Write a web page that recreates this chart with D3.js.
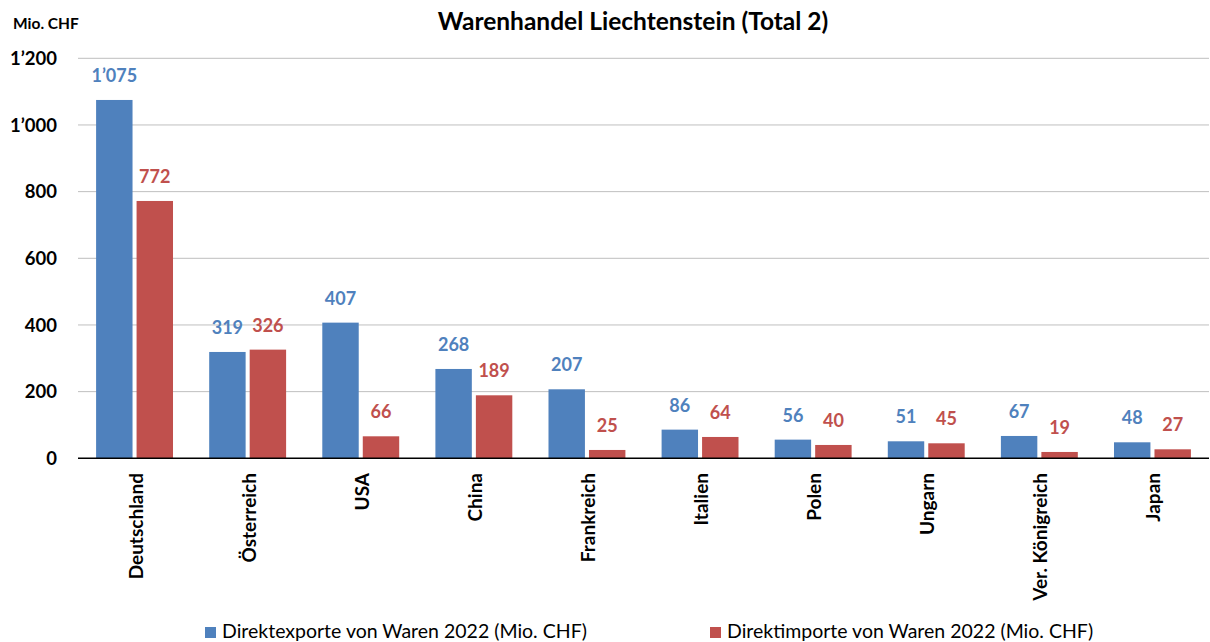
<!DOCTYPE html>
<html><head><meta charset="utf-8">
<script src="https://cdn.jsdelivr.net/npm/d3@7"></script>
<style>body{margin:0;background:#fff;} svg{font-family:Lato,"Open Sans",sans-serif;}</style>
</head><body>
<svg id="c" width="1210" height="642"></svg>
<script>
const categories = ["Deutschland","Österreich","USA","China","Frankreich","Italien","Polen","Ungarn","Ver. Königreich","Japan"];
const exportsVals = [1075,319,407,268,207,86,56,51,67,48];
const importsVals = [772,326,66,189,25,64,40,45,19,27];
const seriesNames = ["Direktexporte von Waren 2022 (Mio. CHF)","Direktimporte von Waren 2022 (Mio. CHF)"];
const yTicks = [0,200,400,600,800,1000,1200];
const colors = ["#4F81BD","#C0504D"];

(function(){
const svg = d3.select("#c");
const pL = 78, pR = 1209, pT = 58.3, pB = 458.3;
const x = d3.scaleBand().domain(categories).range([pL, pR]).paddingInner(0.32).paddingOuter(0.16);
const xs = d3.scaleBand().domain([0,1]).range([0, x.bandwidth()]).paddingInner(0.1);
const y = d3.scaleLinear().domain([0,1200]).range([pB, pT]);
const fmt = v => { const s = String(v); return s.length > 3 ? s.slice(0, s.length-3) + "\u2019" + s.slice(-3) : s; };

svg.append("g").selectAll("line").data(yTicks.filter(d=>d>0)).join("line")
  .attr("x1", pL).attr("x2", pR).attr("y1", d=>y(d)).attr("y2", d=>y(d))
  .attr("stroke", "#BFBFBF").attr("stroke-width", 1);

svg.append("g").selectAll("text").data(yTicks).join("text")
  .attr("x", 57).attr("y", d=>y(d)).attr("dy", "0.36em").attr("text-anchor", "end")
  .attr("font-weight", "bold").attr("font-size", 18.5).attr("fill", "#000").text(fmt);

const series = [exportsVals, importsVals];
series.forEach((vals, si) => {
  const g = svg.append("g");
  g.selectAll("rect").data(vals).join("rect")
    .attr("x", (d,i)=>x(categories[i]) + xs(si)).attr("width", xs.bandwidth())
    .attr("y", d=>y(d)).attr("height", d=>pB - y(d)).attr("fill", colors[si]);
  g.selectAll("text").data(vals).join("text")
    .attr("x", (d,i)=>x(categories[i]) + xs(si) + xs.bandwidth()/2)
    .attr("y", d=>y(d) - 18).attr("text-anchor", "middle")
    .attr("font-weight", "bold").attr("font-size", 18).attr("fill", colors[si]).text(fmt);
});

svg.append("line").attr("x1", pL).attr("x2", pR).attr("y1", pB).attr("y2", pB)
  .attr("stroke", "#000").attr("stroke-width", 1.5);

svg.append("g").selectAll("text").data(categories).join("text")
  .attr("transform", d=>`translate(${x(d)+x.bandwidth()/2 + 8},473) rotate(-90)`)
  .attr("text-anchor", "end").attr("font-weight", "bold").attr("font-size", 19).attr("fill", "#000").text(d=>d);

svg.append("text").attr("x", 633).attr("y", 29.5).attr("text-anchor", "middle")
  .attr("font-weight", "bold").attr("font-size", 24.5).text("Warenhandel Liechtenstein (Total 2)");
svg.append("text").attr("x", 13).attr("y", 29)
  .attr("font-weight", "bold").attr("font-size", 15.5).text("Mio. CHF");

const legX = [205, 710];
seriesNames.forEach((n, i) => {
  svg.append("rect").attr("x", legX[i]).attr("y", 627).attr("width", 11).attr("height", 11).attr("fill", colors[i]);
  svg.append("text").attr("x", legX[i] + 17).attr("y", 637.5).attr("font-size", 19.5).attr("fill", "#000").text(n);
});
})();
</script>
</body></html>
